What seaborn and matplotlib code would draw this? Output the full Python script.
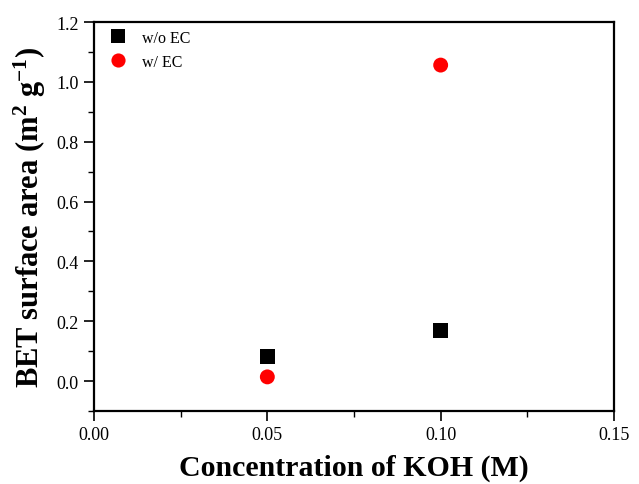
import numpy as np
import pandas as pd
import matplotlib
matplotlib.use("Agg")
import matplotlib.pyplot as plt
from matplotlib.ticker import MultipleLocator
import seaborn as sns

# Data
concentration = [0.05, 0.10]
without_ec = [0.081, 0.168]
with_ec = [0.014, 1.056]
series_names = ["w/o EC", "w/ EC"]
x_ticks = [0.00, 0.05, 0.10, 0.15]
y_ticks = [0.0, 0.2, 0.4, 0.6, 0.8, 1.0, 1.2]

df = pd.DataFrame({
    "x": concentration * 2,
    "y": without_ec + with_ec,
    "series": [series_names[0]] * len(concentration) + [series_names[1]] * len(concentration),
})

sns.set_theme(style="ticks")
plt.rcParams["font.family"] = ["Liberation Serif", "DejaVu Serif"]
plt.rcParams["text.color"] = "black"
plt.rcParams["axes.labelcolor"] = "black"
plt.rcParams["mathtext.fontset"] = "custom"
plt.rcParams["mathtext.rm"] = "Liberation Serif"
plt.rcParams["mathtext.it"] = "Liberation Serif:italic"
plt.rcParams["mathtext.bf"] = "Liberation Serif:bold"

fig = plt.figure(figsize=(6.39, 4.85), dpi=100)
ax = fig.add_axes([94 / 639, (485 - 412) / 485, 520 / 639, 389 / 485])

sns.scatterplot(
    data=df, x="x", y="y", hue="series", style="series",
    palette={series_names[0]: "#000000", series_names[1]: "#ff0000"},
    markers={series_names[0]: "s", series_names[1]: "o"},
    s=115, linewidth=0, ax=ax, zorder=3,
)

ax.set_xlim(0.0, 0.15)
ax.set_ylim(-0.1, 1.2)
ax.set_xticks(x_ticks)
ax.set_yticks(y_ticks)
ax.set_xticklabels([f"{v:.2f}" for v in x_ticks])
ax.set_yticklabels([f"{v:.1f}" for v in y_ticks])
ax.xaxis.set_minor_locator(MultipleLocator(0.025))
ax.yaxis.set_minor_locator(MultipleLocator(0.1))
ax.tick_params(axis="both", which="major", direction="out", length=7, width=1.2,
               labelsize=13, colors="black", pad=4)
ax.tick_params(axis="both", which="minor", direction="out", length=4, width=1.0, colors="black")
ax.tick_params(top=False, right=False, which="both")

for sp in ax.spines.values():
    sp.set_visible(True)
    sp.set_linewidth(1.6)
    sp.set_color("black")

ax.set_xlabel("Concentration of KOH (M)", fontsize=21.5, fontweight="bold", color="black")
ax.set_ylabel(r"BET surface area (m$^{\mathbf{2}}$ g$^{\mathbf{-1}}$)", fontsize=22,
              fontweight="bold", color="black")
ax.xaxis.label.set_va("center")
ax.yaxis.label.set_va("center")
ax.xaxis.set_label_coords(0.5, (412 - 468) / 389)
ax.yaxis.set_label_coords((30 - 94) / 520, 0.5)

leg = ax.legend(loc="upper left", frameon=False, fontsize=11.5, handletextpad=0.5,
                borderaxespad=0.1, labelspacing=0.5, markerscale=0.95)
leg.set_title(None)
for t in leg.get_texts():
    t.set_color("black")

fig.savefig("out.png", dpi=100, facecolor="white")
